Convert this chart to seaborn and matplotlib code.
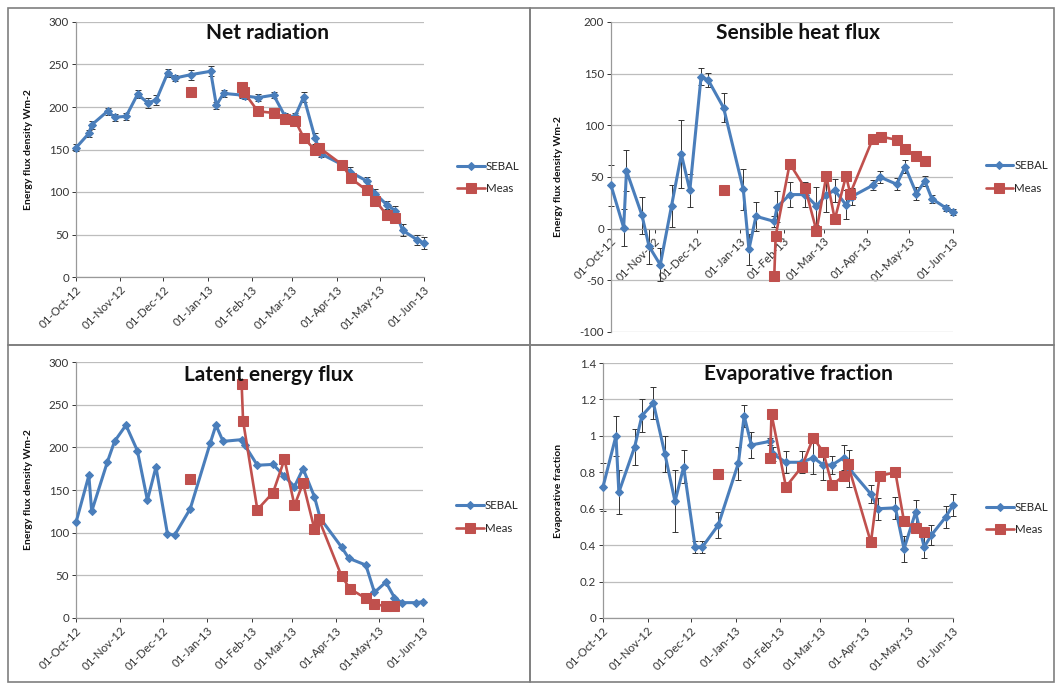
import numpy as np
import pandas as pd
import seaborn as sns
import matplotlib.pyplot as plt
import matplotlib.dates as mdates
from matplotlib.patches import Rectangle

# SEBAL overpass dates and values
sebal_dates = ['2012-10-01', '2012-10-10', '2012-10-12', '2012-10-23', '2012-10-28', '2012-11-05',
               '2012-11-13', '2012-11-20', '2012-11-26', '2012-12-04', '2012-12-09', '2012-12-20',
               '2013-01-03', '2013-01-07', '2013-01-12', '2013-01-25', '2013-01-27', '2013-02-05',
               '2013-02-16', '2013-02-24', '2013-03-03', '2013-03-09', '2013-03-17', '2013-03-21',
               '2013-04-05', '2013-04-10', '2013-04-22', '2013-04-28', '2013-05-06', '2013-05-12',
               '2013-05-17', '2013-05-27', '2013-06-01']
rn_sebal = [152, 169, 179, 195, 188, 189, 215, 205, 208, 240, 234, 238, 242, 202, 216, 214, 213,
            211, 214, 189, 189, 212, 163, 145, 132, 124, 113, 98, 85, 78, 55, 44, 40]
rn_err = [4, 4, 5, 4, 4, 4, 5, 6, 6, 5, 4, 6, 6, 4, 4, 4, 4, 4, 4, 4, 4, 6, 6, 4, 4, 5, 5, 5, 5,
          6, 7, 6, 7]
h_sebal = [42, 1, 56, 13, -17, -35, 22, 72, 37, 147, 144, 117, 38, -20, 12, 7, 21, 33, 33, 22,
           33, 37, 23, 31, 42, 50, 43, 60, 34, 46, 29, 20, 16]
h_err = [20, 18, 20, 18, 17, 16, 20, 33, 16, 8, 7, 14, 20, 15, 14, 5, 15, 12, 12, 18, 17, 11, 14,
         8, 5, 6, 6, 6, 6, 5, 4, 3, 3]
le_sebal = [112, 167, 125, 183, 207, 226, 196, 138, 177, 99, 97, 128, 205, 226, 207, 209, 203,
            179, 180, 166, 154, 175, 142, 117, 83, 70, 62, 30, 42, 24, 18, 18, 19]
ef_sebal = [0.72, 1.00, 0.69, 0.94, 1.11, 1.18, 0.90, 0.64, 0.83, 0.39, 0.39, 0.51, 0.85, 1.11,
            0.95, 0.97, 0.90, 0.855, 0.855, 0.88, 0.84, 0.84, 0.88, 0.82, 0.68, 0.60, 0.605, 0.38,
            0.58, 0.39, 0.455, 0.555, 0.62]
ef_err = [0.13, 0.11, 0.12, 0.10, 0.09, 0.09, 0.10, 0.17, 0.09, 0.035, 0.035, 0.07, 0.09, 0.06,
          0.07, 0.02, 0.04, 0.06, 0.06, 0.09, 0.08, 0.05, 0.07, 0.10, 0.05, 0.06, 0.06, 0.07, 0.07,
          0.06, 0.055, 0.06, 0.06]

# Measured (flux tower) dates and values, NaN = blank cell (gap in line)
meas_dates = ['2012-12-20', '2013-01-07', '2013-01-25', '2013-01-26', '2013-02-05', '2013-02-16',
              '2013-02-24', '2013-03-03', '2013-03-09', '2013-03-17', '2013-03-20', '2013-04-05',
              '2013-04-11', '2013-04-22', '2013-04-28', '2013-05-06', '2013-05-12']
rn_meas = [218, np.nan, 224, 218, 195, 193, 186, 184, 164, 149, 152, 132, 116, 102, 90, 73, 70]
h_meas = [37, np.nan, -46, -7, 63, 39, -2, 51, 9, 51, 34, 87, 89, 86, 77, 70, 65]
le_meas = [163, np.nan, 274, 231, 127, 147, 186, 132, 158, 104, 116, 49, 34, 23, 16, 14, 14]
ef_meas = [0.79, np.nan, 0.88, 1.12, 0.72, 0.83, 0.99, 0.91, 0.73, 0.78, 0.845, 0.415, 0.78,
           0.80, 0.53, 0.495, 0.47]

titles = ['Net radiation', 'Sensible heat flux', 'Latent energy flux', 'Evaporative fraction']
ylabels = ['Energy flux density Wm-2', 'Energy flux density Wm-2', 'Energy flux density Wm-2',
           'Evaporative fraction']

BLUE = '#4a7ebb'
RED = '#c0504d'

sns.set_theme(style='white')
plt.rcParams['font.family'] = ['Lato', 'DejaVu Sans']

W, H = 1058, 684
fig = plt.figure(figsize=(W / 100, H / 100), dpi=100)


def px_axes(l, t, r, b):
    return fig.add_axes([l / W, 1 - b / H, (r - l) / W, (b - t) / H])


def draw_series(ax, dates, vals, color, marker, ms, lw, label):
    df = pd.DataFrame({'date': pd.to_datetime(dates), 'val': vals})
    run = df['val'].isna().cumsum()
    ok = df['val'].notna()
    first = True
    for _, seg in df[ok].groupby(run[ok]):
        sns.lineplot(data=seg, x='date', y='val', ax=ax, color=color, marker=marker,
                     markersize=ms, markeredgecolor=color, linewidth=lw, estimator=None,
                     sort=False, label=label if first else None, zorder=3, clip_on=False)
        first = False


axes = [px_axes(76, 22, 424, 277), px_axes(611, 22, 953, 332),
        px_axes(76, 362, 423, 618), px_axes(603, 363, 953, 618)]
sebal_vals = [rn_sebal, h_sebal, le_sebal, ef_sebal]
sebal_errs = [rn_err, h_err, None, ef_err]
meas_vals = [rn_meas, h_meas, le_meas, ef_meas]
ylims = [(0, 300), (-100, 200), (0, 300), (0, 1.4)]
ysteps = [50, 50, 50, 0.2]
label_x = [-0.124, -0.14, -0.124, -0.114]
legend_y = [0.39, 0.5, 0.395, 0.39]
title_pos = [(268, 33), (798, 33), (269, 375), (798, 374)]

for i, ax in enumerate(axes):
    sd = pd.to_datetime(sebal_dates)
    if sebal_errs[i] is not None:
        eb = ax.errorbar(sd, sebal_vals[i], yerr=sebal_errs[i], fmt='none', ecolor='#333333',
                         elinewidth=0.7, capsize=2.5, capthick=0.7, zorder=2)
        for art in eb.get_children():
            art.set_clip_on(False)
    draw_series(ax, sebal_dates, sebal_vals[i], BLUE, 'D', 3.8, 2.2, 'SEBAL')
    draw_series(ax, meas_dates, meas_vals[i], RED, 's', 6.5, 1.9, 'Meas')

    lo, hi = ylims[i]
    ax.set_ylim(lo, hi)
    ax.set_yticks(np.arange(lo, hi + ysteps[i] / 2, ysteps[i]))
    ax.yaxis.set_major_formatter(plt.FuncFormatter(lambda v, p: f'{v:g}'))
    ax.set_xlim(pd.Timestamp('2012-10-01'), pd.Timestamp('2013-06-01'))
    ax.xaxis.set_major_locator(mdates.MonthLocator())
    ax.xaxis.set_major_formatter(mdates.DateFormatter('%d-%b-%y'))

    ax.grid(axis='y', color='#bdbdbd', linewidth=0.9)
    ax.grid(axis='x', visible=False)
    for s in ['top', 'right']:
        ax.spines[s].set_visible(False)
    for s in ['left', 'bottom']:
        ax.spines[s].set_color('#999999')
        ax.spines[s].set_linewidth(0.9)
    if lo < 0:
        ax.spines['bottom'].set_position(('data', 0))

    ax.tick_params(axis='both', labelsize=8.3, colors='#333333', length=3, width=0.7,
                   direction='out', pad=2, bottom=True, left=True)
    ax.tick_params(axis='x', labelrotation=45)
    for lab in ax.get_xticklabels():
        lab.set_ha('right')
        lab.set_rotation_mode('anchor')

    ax.set_xlabel('')
    ax.set_ylabel(ylabels[i], fontsize=7.5, fontweight='bold', color='#111111')
    ax.yaxis.set_label_coords(label_x[i], 0.5)

    ax.legend(loc='center left', bbox_to_anchor=(1.065, legend_y[i]), frameon=False,
              fontsize=8.3, handlelength=2.4, handletextpad=0.1, labelspacing=1.0)

    tx, ty = title_pos[i]
    fig.text(tx / W, 1 - ty / H, titles[i], ha='center', va='center', fontsize=15,
             fontweight='bold', color='#111111')

# panel frames
for (l, t, r, b) in [(8, 8, 530, 345), (530, 8, 1054, 345), (8, 345, 530, 682), (530, 345, 1054, 682)]:
    fig.add_artist(Rectangle((l / W, 1 - b / H), (r - l) / W, (b - t) / H, transform=fig.transFigure,
                             fill=False, edgecolor='#7f7f7f', linewidth=1.2))

fig.savefig('out.png', dpi=100)
